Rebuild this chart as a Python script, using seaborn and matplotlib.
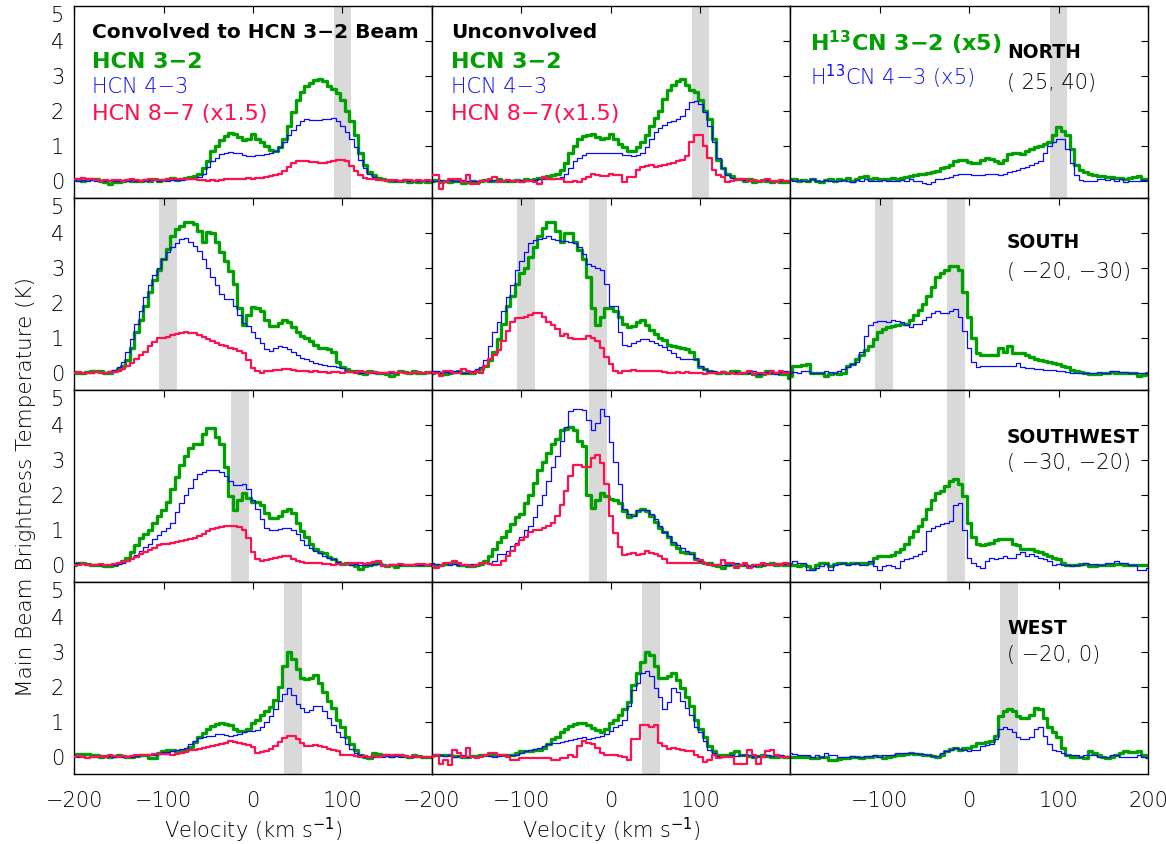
import numpy as np
import pandas as pd
import matplotlib
matplotlib.use("Agg")
import matplotlib.pyplot as plt
import seaborn as sns

# 5 km/s channel grid shared by all spectra
velocity = np.arange(-200, 205, 5)

# ---------------- NORTH ( 25, 40) ----------------
north_conv_hcn32 = [0.03, 0.02, 0.00, 0.03, 0.05, 0.04, 0.00, -0.05, -0.10, -0.05,
                    -0.03, 0.00, 0.02, 0.00, -0.02, 0.00, 0.02, 0.00, 0.03, 0.00,
                    0.02, 0.03, 0.06, 0.02, 0.04, 0.06, 0.10, 0.12, 0.20, 0.35,
                    0.55, 0.85, 1.00, 1.15, 1.28, 1.35, 1.32, 1.25, 1.15, 1.20,
                    1.33, 1.20, 1.10, 1.00, 0.88, 0.85, 0.95, 1.20, 1.55, 1.95,
                    2.30, 2.55, 2.70, 2.80, 2.88, 2.92, 2.85, 2.72, 2.62, 2.52,
                    2.30, 2.00, 1.70, 1.30, 0.80, 0.45, 0.25, 0.15, 0.08, 0.05,
                    0.02, 0.00, -0.02, 0.00, 0.02, -0.03, 0.00, -0.05, -0.02, -0.03,
                    0.00]
north_conv_hcn43 = [0.02, 0.00, 0.01, 0.00, 0.02, 0.00, -0.01, 0.00, 0.01, 0.00,
                    0.00, 0.01, 0.00, 0.02, 0.00, 0.01, 0.00, 0.02, 0.01, 0.00,
                    0.01, 0.00, 0.02, 0.01, 0.02, 0.03, 0.05, 0.08, 0.10, 0.20,
                    0.40, 0.55, 0.65, 0.75, 0.80, 0.82, 0.80, 0.78, 0.72, 0.70,
                    0.70, 0.72, 0.74, 0.76, 0.80, 0.85, 0.95, 1.10, 1.30, 1.45,
                    1.60, 1.70, 1.75, 1.73, 1.73, 1.74, 1.75, 1.76, 1.78, 1.72,
                    1.55, 1.40, 1.20, 0.95, 0.60, 0.35, 0.20, 0.10, 0.05, 0.02,
                    0.00, 0.01, -0.02, 0.00, 0.01, 0.00, -0.01, 0.00, 0.02, 0.00,
                    0.00]
north_conv_hcn87 = [0.03, 0.04, 0.06, 0.05, 0.03, 0.02, 0.00, 0.01, 0.00, 0.02,
                    0.01, 0.00, 0.02, 0.03, 0.01, 0.00, 0.02, 0.03, 0.02, 0.01,
                    0.02, 0.03, 0.03, 0.04, 0.05, 0.04, 0.05, 0.03, 0.02, 0.01,
                    0.00, 0.01, 0.00, 0.02, 0.03, 0.03, 0.04, 0.05, 0.05, 0.06,
                    0.05, 0.07, 0.08, 0.10, 0.12, 0.15, 0.20, 0.28, 0.40, 0.50,
                    0.56, 0.57, 0.56, 0.54, 0.52, 0.50, 0.50, 0.52, 0.55, 0.58,
                    0.60, 0.55, 0.42, 0.28, 0.15, 0.08, 0.05, 0.03, 0.02, 0.01,
                    0.00, 0.02, 0.01, 0.00, 0.02, 0.01, 0.00, 0.01, 0.00, 0.01,
                    0.00]
north_unconv_hcn32 = [0.00, 0.02, -0.03, 0.00, -0.05, -0.02, 0.00, -0.08, -0.05, 0.00,
                      -0.03, 0.00, 0.02, -0.02, 0.00, 0.03, 0.00, -0.02, 0.00, 0.02,
                      0.00, 0.03, 0.02, 0.05, 0.08, 0.10, 0.12, 0.15, 0.20, 0.30,
                      0.50, 0.80, 1.00, 1.18, 1.28, 1.30, 1.33, 1.25, 1.20, 1.22,
                      1.33, 1.20, 1.05, 0.95, 0.85, 0.85, 0.95, 1.10, 1.30, 1.55,
                      1.80, 2.00, 2.35, 2.60, 2.75, 2.85, 2.90, 2.75, 2.60, 2.55,
                      2.30, 2.00, 1.75, 1.20, 0.60, 0.35, 0.20, 0.12, 0.05, 0.03,
                      0.00, 0.03, -0.03, 0.00, 0.02, 0.00, -0.05, 0.00, -0.03, -0.05,
                      0.00]
north_unconv_hcn43 = [0.00, -0.02, 0.02, 0.00, 0.01, -0.02, 0.00, 0.02, 0.00, -0.01,
                      0.00, 0.02, 0.00, -0.01, 0.02, 0.00, 0.01, 0.00, 0.02, 0.00,
                      0.01, 0.00, 0.02, 0.02, 0.03, 0.04, 0.05, 0.05, 0.08, 0.10,
                      0.20, 0.35, 0.55, 0.65, 0.72, 0.78, 0.80, 0.80, 0.80, 0.80,
                      0.80, 0.80, 0.78, 0.74, 0.72, 0.70, 0.72, 0.80, 0.95, 1.20,
                      1.40, 1.50, 1.60, 1.68, 1.72, 1.76, 1.85, 2.05, 2.25, 2.28,
                      2.20, 1.95, 1.55, 1.10, 0.65, 0.35, 0.15, 0.08, 0.05, 0.03,
                      0.02, 0.00, 0.01, -0.02, 0.00, 0.02, 0.00, -0.01, 0.00, 0.02,
                      0.00]
north_unconv_hcn87 = [0.15, 0.15, -0.25, -0.05, 0.05, 0.05, 0.05, -0.05, 0.15, -0.10,
                      -0.10, 0.00, -0.02, 0.05, 0.10, -0.05, 0.00, 0.02, 0.00, -0.02,
                      -0.03, 0.00, 0.00, -0.05, -0.10, 0.10, 0.05, 0.05, 0.05, 0.03,
                      -0.05, -0.05, 0.00, -0.05, 0.05, 0.10, 0.20, 0.15, 0.12, 0.12,
                      0.20, 0.15, 0.15, -0.05, 0.10, 0.10, 0.30, 0.40, 0.42, 0.45,
                      0.40, 0.42, 0.45, 0.48, 0.50, 0.55, 0.60, 0.70, 1.10, 1.30,
                      1.30, 1.00, 0.65, 0.30, 0.15, 0.10, -0.05, 0.00, 0.02, 0.05,
                      0.03, 0.00, 0.02, -0.02, 0.00, 0.03, 0.00, -0.03, 0.02, 0.00,
                      0.00]
north_h13cn32 = [0.05, 0.03, 0.00, 0.02, -0.02, 0.03, 0.00, -0.05, 0.02, 0.05,
                 0.00, 0.05, 0.02, 0.08, 0.00, 0.05, 0.10, 0.12, 0.05, 0.08,
                 0.05, 0.03, 0.05, 0.08, 0.05, 0.08, 0.10, 0.12, 0.15, 0.18,
                 0.20, 0.22, 0.25, 0.28, 0.35, 0.40, 0.45, 0.55, 0.60, 0.58,
                 0.52, 0.50, 0.50, 0.60, 0.65, 0.62, 0.55, 0.50, 0.60, 0.75,
                 0.80, 0.78, 0.75, 0.85, 0.90, 0.95, 1.00, 1.05, 1.10, 1.30,
                 1.52, 1.42, 1.30, 0.90, 0.45, 0.30, 0.25, 0.20, 0.15, 0.12,
                 0.12, 0.10, 0.10, 0.08, 0.08, 0.05, 0.08, 0.10, 0.12, 0.05,
                 0.05]
north_h13cn43 = [0.02, 0.00, 0.01, -0.02, 0.00, 0.03, 0.00, -0.02, 0.02, 0.00,
                 -0.02, 0.00, 0.02, 0.00, -0.03, 0.02, 0.00, 0.03, 0.00, -0.02,
                 0.00, 0.02, 0.00, -0.02, 0.00, 0.02, 0.00, 0.03, 0.00, -0.02,
                 -0.08, -0.10, -0.05, 0.05, 0.05, 0.08, 0.10, 0.15, 0.20, 0.18,
                 0.20, 0.15, 0.15, 0.15, 0.18, 0.20, 0.20, 0.15, 0.18, 0.25,
                 0.28, 0.30, 0.35, 0.40, 0.45, 0.50, 0.55, 0.80, 1.00, 1.10,
                 1.20, 1.18, 0.90, 0.50, 0.15, 0.02, 0.00, -0.02, 0.00, 0.05,
                 0.05, 0.02, 0.05, 0.00, 0.05, -0.05, 0.00, -0.02, 0.00, 0.02,
                 0.00]

# ---------------- SOUTH ( -20, -30) ----------------
south_conv_hcn32 = [0.02, 0.00, 0.00, 0.02, 0.03, 0.05, 0.05, 0.00, 0.00, 0.05,
                    0.10, 0.20, 0.35, 0.70, 1.15, 1.50, 1.90, 2.30, 2.65, 2.95,
                    3.25, 3.55, 3.90, 4.10, 4.20, 4.32, 4.30, 4.25, 4.05, 3.75,
                    4.02, 4.00, 3.75, 3.45, 3.20, 2.90, 2.55, 1.85, 1.37, 1.65,
                    1.88, 1.85, 1.75, 1.50, 1.32, 1.32, 1.42, 1.50, 1.45, 1.30,
                    1.15, 1.05, 1.00, 0.90, 0.80, 0.70, 0.70, 0.68, 0.60, 0.30,
                    0.15, 0.10, 0.05, 0.05, 0.00, -0.05, 0.03, 0.02, 0.00, 0.00,
                    -0.05, -0.10, -0.05, 0.03, 0.02, 0.00, 0.03, 0.00, 0.00, 0.02,
                    0.02]
south_conv_hcn43 = [0.02, 0.01, 0.00, 0.02, 0.00, 0.01, 0.02, 0.00, 0.03, 0.08,
                    0.15, 0.30, 0.60, 0.95, 1.40, 1.75, 2.15, 2.50, 2.80, 3.00,
                    3.25, 3.45, 3.60, 3.72, 3.82, 3.85, 3.75, 3.62, 3.48, 3.25,
                    3.00, 2.75, 2.50, 2.25, 2.10, 2.10, 1.90, 1.65, 1.42, 1.32,
                    1.15, 1.00, 0.85, 0.68, 0.63, 0.70, 0.75, 0.72, 0.68, 0.60,
                    0.50, 0.42, 0.38, 0.33, 0.28, 0.25, 0.22, 0.20, 0.18, 0.15,
                    0.12, 0.05, 0.03, 0.02, 0.00, 0.02, 0.00, -0.02, 0.01, 0.00,
                    0.02, 0.00, -0.01, 0.02, 0.00, 0.01, 0.00, 0.02, -0.01, 0.00,
                    0.02]
south_conv_hcn87 = [0.00, 0.01, 0.00, -0.01, 0.00, 0.01, 0.00, 0.00, 0.01, 0.02,
                    0.05, 0.10, 0.18, 0.28, 0.40, 0.50, 0.60, 0.75, 0.88, 0.98,
                    1.00, 1.03, 1.07, 1.10, 1.13, 1.15, 1.14, 1.12, 1.08, 1.03,
                    0.97, 0.90, 0.85, 0.80, 0.75, 0.70, 0.67, 0.62, 0.55, 0.35,
                    0.12, 0.03, 0.00, 0.03, 0.05, 0.07, 0.08, 0.10, 0.09, 0.07,
                    0.05, 0.04, 0.03, 0.02, 0.03, 0.02, 0.01, 0.00, 0.02, 0.01,
                    0.00, 0.02, 0.01, 0.00, 0.03, 0.01, 0.00, 0.02, 0.00, -0.02,
                    0.00, 0.02, 0.00, 0.01, 0.00, -0.01, 0.00, 0.01, 0.00, 0.00,
                    0.01]
south_unconv_hcn32 = [0.00, 0.02, 0.00, -0.03, 0.00, 0.02, 0.03, 0.00, 0.00, -0.02,
                      0.05, 0.10, 0.20, 0.35, 0.60, 0.95, 1.40, 1.90, 2.20, 2.55,
                      2.85, 3.00, 3.30, 3.60, 3.90, 4.15, 4.30, 4.30, 4.05, 3.75,
                      4.00, 4.00, 3.75, 3.50, 3.25, 2.75, 1.85, 1.35, 1.60, 1.85,
                      1.85, 1.75, 1.60, 1.40, 1.30, 1.32, 1.45, 1.50, 1.35, 1.22,
                      1.10, 1.00, 0.92, 0.80, 0.75, 0.72, 0.70, 0.68, 0.60, 0.40,
                      0.15, 0.10, 0.05, 0.02, 0.00, 0.02, 0.00, 0.05, 0.03, 0.00,
                      0.00, -0.02, -0.05, -0.10, -0.03, 0.03, 0.00, -0.02, -0.05, -0.03,
                      -0.15]
south_unconv_hcn43 = [0.05, 0.05, 0.00, 0.02, 0.00, 0.05, 0.03, 0.00, 0.00, 0.05,
                      0.10, 0.15, 0.35, 0.75, 1.15, 1.45, 1.75, 2.15, 2.50, 2.95,
                      3.20, 3.45, 3.70, 3.80, 3.83, 3.85, 3.90, 3.82, 3.80, 3.78,
                      3.76, 3.75, 3.72, 3.60, 3.40, 3.10, 3.05, 3.00, 2.95, 2.55,
                      1.90, 1.90, 1.15, 0.80, 0.75, 0.85, 0.90, 0.95, 0.95, 0.90,
                      0.85, 0.78, 0.72, 0.65, 0.55, 0.45, 0.40, 0.40, 0.40, 0.40,
                      0.20, 0.10, 0.05, 0.03, 0.00, 0.03, 0.00, -0.02, 0.02, 0.00,
                      0.02, 0.00, 0.05, -0.05, 0.00, 0.02, 0.00, -0.03, 0.02, 0.05,
                      0.02]
south_unconv_hcn87 = [0.00, 0.00, -0.10, 0.05, 0.05, 0.00, 0.00, 0.10, 0.05, 0.00,
                      0.05, 0.00, 0.20, 0.40, 0.50, 0.65, 0.90, 1.20, 1.45, 1.55,
                      1.55, 1.60, 1.65, 1.70, 1.72, 1.60, 1.45, 1.35, 1.25, 1.05,
                      1.10, 1.00, 0.95, 0.95, 0.95, 1.05, 1.00, 0.90, 0.70, 0.45,
                      0.25, 0.05, 0.00, 0.03, 0.05, 0.08, 0.05, 0.05, 0.05, 0.04,
                      0.05, 0.03, 0.02, 0.00, 0.00, 0.02, 0.00, 0.02, 0.00, 0.00,
                      0.00, -0.05, 0.00, 0.00, 0.00, 0.02, 0.00, 0.00, -0.05, 0.00,
                      0.00, 0.05, -0.05, 0.00, 0.00, -0.05, 0.03, 0.00, 0.03, 0.00,
                      0.00]
south_h13cn32 = [-0.10, 0.20, 0.20, 0.22, 0.25, 0.00, 0.00, 0.00, -0.10, -0.05,
                 0.00, -0.05, 0.00, 0.20, 0.25, 0.40, 0.50, 0.65, 0.75, 0.95,
                 1.15, 1.25, 1.30, 1.32, 1.35, 1.38, 1.40, 1.50, 1.65, 1.80,
                 1.95, 2.20, 2.45, 2.75, 2.85, 2.95, 3.05, 3.05, 2.95, 2.30,
                 1.60, 1.00, 0.55, 0.50, 0.50, 0.50, 0.50, 0.70, 0.60, 0.75,
                 0.55, 0.55, 0.55, 0.50, 0.45, 0.40, 0.35, 0.32, 0.30, 0.28,
                 0.25, 0.20, 0.15, 0.08, 0.05, 0.02, 0.00, -0.05, -0.03, -0.03,
                 0.00, 0.00, 0.02, 0.00, 0.00, 0.00, 0.00, 0.00, -0.10, -0.08,
                 -0.02]
south_h13cn43 = [0.00, 0.02, -0.02, 0.05, 0.03, -0.02, 0.00, 0.00, 0.05, 0.02,
                 0.00, 0.05, 0.10, 0.15, 0.25, 0.30, 0.60, 1.05, 1.35, 1.45,
                 1.48, 1.47, 1.45, 1.50, 1.48, 1.45, 1.35, 1.30, 1.38, 1.40,
                 1.50, 1.60, 1.70, 1.75, 1.72, 1.72, 1.77, 1.82, 1.60, 1.20,
                 0.70, 0.30, 0.15, 0.20, 0.18, 0.18, 0.20, 0.20, 0.20, 0.18,
                 0.20, 0.28, 0.15, 0.12, 0.12, 0.10, 0.10, 0.08, 0.08, 0.06,
                 0.05, 0.03, 0.02, 0.00, 0.00, 0.00, 0.00, 0.00, 0.00, 0.02,
                 0.00, 0.00, 0.05, 0.03, 0.02, 0.02, 0.00, 0.00, 0.00, -0.02,
                 -0.02]

# ---------------- SOUTHWEST ( -30, -20) ----------------
southwest_conv_hcn32 = [0.00, 0.05, 0.05, 0.02, 0.00, 0.00, 0.00, -0.03, -0.05, 0.00,
                        0.05, 0.10, 0.20, 0.35, 0.55, 0.75, 0.88, 1.00, 1.20, 1.40,
                        1.55, 1.80, 2.15, 2.50, 2.85, 3.10, 3.35, 3.45, 3.45, 3.75,
                        3.92, 3.90, 3.65, 3.45, 2.80, 1.95, 1.57, 1.85, 2.05, 1.90,
                        1.80, 1.78, 1.72, 1.47, 1.33, 1.33, 1.38, 1.52, 1.60, 1.47,
                        1.20, 0.95, 0.80, 0.60, 0.45, 0.35, 0.32, 0.22, 0.15, 0.08,
                        0.02, 0.03, 0.02, -0.05, -0.12, -0.03, 0.00, 0.02, 0.05, -0.02,
                        -0.03, 0.00, -0.07, 0.00, -0.02, 0.00, 0.00, -0.02, 0.00, 0.00,
                        -0.02]
southwest_conv_hcn43 = [0.02, 0.05, 0.03, 0.02, 0.00, 0.01, 0.00, 0.00, -0.02, 0.00,
                        0.02, 0.05, 0.10, 0.18, 0.28, 0.38, 0.50, 0.60, 0.72, 0.85,
                        0.95, 1.05, 1.20, 1.50, 1.75, 2.00, 2.20, 2.45, 2.58, 2.65,
                        2.70, 2.72, 2.70, 2.65, 2.55, 2.40, 2.28, 2.28, 2.30, 2.15,
                        1.85, 1.60, 1.30, 1.05, 1.00, 1.00, 1.02, 1.04, 1.05, 1.00,
                        0.88, 0.70, 0.55, 0.48, 0.38, 0.32, 0.25, 0.20, 0.15, 0.08,
                        0.03, 0.02, 0.00, 0.01, 0.00, -0.02, 0.00, 0.01, 0.02, 0.00,
                        0.00, 0.01, 0.00, -0.02, 0.00, 0.00, 0.01, 0.00, 0.00, 0.01,
                        0.00]
southwest_conv_hcn87 = [-0.02, 0.00, 0.01, 0.00, -0.02, 0.00, 0.01, 0.00, 0.00, 0.02,
                        0.03, 0.06, 0.10, 0.15, 0.22, 0.30, 0.35, 0.42, 0.48, 0.55,
                        0.58, 0.60, 0.62, 0.65, 0.68, 0.70, 0.73, 0.77, 0.82, 0.88,
                        0.95, 1.02, 1.06, 1.08, 1.10, 1.10, 1.09, 1.07, 1.00, 0.75,
                        0.35, 0.15, 0.10, 0.12, 0.15, 0.20, 0.23, 0.25, 0.24, 0.15,
                        0.10, 0.07, 0.05, 0.04, 0.03, 0.03, 0.02, 0.01, 0.00, 0.01,
                        0.02, 0.02, 0.03, 0.05, 0.03, 0.02, 0.05, 0.08, 0.10, -0.05,
                        -0.03, 0.00, 0.00, 0.01, 0.00, 0.00, 0.00, 0.02, 0.01, 0.00,
                        0.02]
southwest_unconv_hcn32 = [-0.02, 0.00, 0.00, 0.02, 0.05, 0.03, 0.00, 0.00, -0.03, -0.05,
                          0.00, 0.02, 0.10, 0.25, 0.45, 0.65, 0.80, 0.95, 1.15, 1.35,
                          1.45, 1.75, 2.00, 2.35, 2.70, 2.95, 3.20, 3.45, 3.60, 3.85,
                          3.88, 3.95, 3.85, 3.55, 3.40, 2.00, 1.62, 1.85, 2.05, 1.95,
                          1.88, 1.84, 1.76, 1.52, 1.37, 1.42, 1.52, 1.59, 1.52, 1.40,
                          1.23, 1.05, 0.94, 0.80, 0.60, 0.46, 0.37, 0.34, 0.34, 0.17,
                          0.08, 0.05, 0.03, 0.00, -0.05, -0.09, 0.00, 0.02, 0.00, 0.00,
                          -0.02, -0.05, 0.00, -0.03, 0.00, 0.02, 0.03, 0.00, 0.02, 0.00,
                          0.02]
southwest_unconv_hcn43 = [0.05, 0.02, 0.00, 0.03, 0.00, 0.02, 0.00, -0.02, 0.00, 0.02,
                          0.00, 0.05, 0.05, 0.05, 0.10, 0.30, 0.30, 0.40, 0.52, 0.62,
                          0.80, 1.00, 1.10, 1.35, 1.70, 2.00, 2.40, 2.80, 3.10, 3.55,
                          3.95, 4.40, 4.45, 4.45, 4.42, 4.15, 3.85, 4.05, 4.45, 4.25,
                          3.50, 2.95, 2.30, 1.60, 1.45, 1.40, 1.55, 1.55, 1.55, 1.45,
                          1.30, 1.10, 0.92, 0.82, 0.65, 0.55, 0.48, 0.40, 0.30, 0.20,
                          0.10, 0.05, 0.02, 0.00, 0.02, 0.00, -0.02, 0.00, 0.03, 0.00,
                          0.00, -0.05, -0.03, 0.02, 0.00, 0.02, 0.00, 0.03, 0.00, 0.02,
                          0.00]
southwest_unconv_hcn87 = [-0.05, -0.10, -0.05, 0.05, 0.05, 0.10, 0.05, 0.00, -0.02, -0.05,
                          0.00, 0.05, 0.05, 0.02, -0.02, 0.00, 0.10, 0.25, 0.40, 0.55,
                          0.70, 0.80, 0.92, 1.00, 1.00, 1.05, 1.10, 1.20, 1.40, 1.70,
                          2.10, 2.55, 2.84, 2.86, 2.80, 2.80, 3.05, 3.15, 2.90, 2.30,
                          1.40, 0.90, 0.50, 0.28, 0.30, 0.32, 0.28, 0.30, 0.40, 0.32,
                          0.30, 0.25, 0.17, 0.05, 0.03, 0.05, 0.03, 0.05, 0.03, 0.05,
                          0.12, 0.03, 0.00, -0.02, 0.00, 0.12, 0.05, 0.05, -0.09, -0.02,
                          0.05, -0.11, -0.02, 0.00, 0.03, 0.00, -0.02, 0.02, 0.00, 0.03,
                          0.00]
southwest_h13cn32 = [0.00, -0.02, -0.03, 0.00, -0.05, -0.12, 0.00, 0.05, 0.03, -0.05,
                     0.02, 0.05, 0.05, 0.02, 0.05, 0.05, 0.03, 0.05, 0.05, 0.20,
                     0.25, 0.25, 0.25, 0.28, 0.35, 0.45, 0.60, 0.80, 0.95, 1.10,
                     1.30, 1.60, 1.85, 2.05, 2.10, 2.25, 2.40, 2.45, 2.30, 1.95,
                     1.20, 0.80, 0.60, 0.55, 0.58, 0.62, 0.70, 0.72, 0.72, 0.72,
                     0.60, 0.55, 0.45, 0.45, 0.45, 0.40, 0.35, 0.30, 0.25, 0.20,
                     0.15, 0.05, 0.00, 0.00, 0.00, 0.02, 0.02, -0.05, -0.03, 0.00,
                     0.00, 0.00, 0.00, 0.02, 0.02, 0.00, 0.00, 0.00, 0.00, 0.00,
                     0.00]
southwest_h13cn43 = [0.05, 0.10, 0.05, 0.05, -0.15, -0.15, -0.10, -0.05, 0.02, -0.15,
                     0.00, 0.02, 0.05, 0.00, 0.02, 0.05, 0.00, 0.00, 0.10, -0.05,
                     -0.15, -0.05, 0.00, -0.05, -0.10, 0.10, 0.15, 0.20, 0.25, 0.30,
                     0.40, 0.95, 1.05, 1.10, 1.15, 1.20, 1.25, 1.70, 1.75, 1.00,
                     0.20, 0.05, -0.05, -0.10, 0.10, 0.20, 0.15, 0.20, 0.25, 0.20,
                     0.20, 0.30, 0.35, 0.25, 0.30, 0.25, 0.20, 0.15, 0.10, 0.00,
                     0.02, 0.00, 0.00, -0.05, 0.00, 0.00, 0.05, 0.02, 0.02, 0.00,
                     0.00, 0.05, 0.05, 0.10, 0.03, 0.05, 0.00, 0.00, -0.15, -0.15,
                     -0.10]

# ---------------- WEST ( -20, 0) ----------------
west_conv_hcn32 = [0.05, 0.08, 0.08, 0.06, 0.05, 0.03, 0.00, 0.02, 0.00, 0.02,
                   0.03, 0.02, 0.00, 0.00, 0.02, 0.05, 0.05, -0.05, -0.05, 0.10,
                   0.15, 0.18, 0.20, 0.17, 0.15, 0.20, 0.28, 0.42, 0.55, 0.68,
                   0.80, 0.88, 0.93, 0.95, 0.94, 0.90, 0.80, 0.74, 0.72, 0.80,
                   0.95, 1.05, 1.20, 1.30, 1.42, 1.62, 2.00, 2.60, 3.00, 2.80,
                   2.50, 2.25, 2.22, 2.25, 2.35, 2.10, 1.85, 1.60, 1.40, 1.05,
                   0.85, 0.55, 0.35, 0.18, 0.05, 0.00, -0.05, 0.10, 0.08, 0.05,
                   0.03, 0.02, 0.05, 0.03, 0.02, 0.00, 0.03, 0.02, 0.00, -0.02,
                   0.00]
west_conv_hcn43 = [0.02, 0.00, 0.01, 0.00, 0.02, 0.00, 0.01, 0.00, 0.02, 0.00,
                   0.01, 0.00, 0.02, 0.00, 0.02, 0.03, 0.03, 0.05, 0.05, 0.08,
                   0.12, 0.14, 0.15, 0.18, 0.22, 0.25, 0.35, 0.45, 0.52, 0.55,
                   0.58, 0.60, 0.65, 0.65, 0.62, 0.60, 0.62, 0.65, 0.70, 0.72,
                   0.72, 0.75, 0.85, 1.00, 1.15, 1.35, 1.60, 1.80, 1.95, 1.75,
                   1.50, 1.40, 1.28, 1.32, 1.45, 1.45, 1.30, 1.10, 0.90, 0.70,
                   0.55, 0.35, 0.22, 0.10, 0.03, 0.00, 0.01, 0.00, 0.02, 0.00,
                   0.01, 0.00, 0.02, 0.00, 0.01, 0.00, 0.00, 0.01, 0.00, 0.00,
                   0.00]
west_conv_hcn87 = [0.00, 0.01, 0.00, -0.03, -0.02, 0.00, 0.01, 0.00, 0.03, 0.02,
                   0.00, 0.01, 0.00, 0.02, 0.03, 0.05, 0.04, 0.05, 0.06, 0.08,
                   0.08, 0.07, 0.05, 0.06, 0.10, 0.12, 0.18, 0.20, 0.22, 0.25,
                   0.27, 0.30, 0.32, 0.35, 0.40, 0.45, 0.42, 0.40, 0.35, 0.32,
                   0.28, 0.10, 0.12, 0.17, 0.22, 0.30, 0.42, 0.52, 0.60, 0.58,
                   0.50, 0.40, 0.30, 0.30, 0.32, 0.30, 0.27, 0.22, 0.20, 0.15,
                   0.05, 0.04, 0.03, 0.02, 0.00, 0.01, 0.00, 0.02, 0.00, 0.02,
                   0.03, 0.05, 0.04, 0.03, 0.02, 0.00, 0.01, 0.00, -0.02, -0.02,
                   -0.02]
west_unconv_hcn32 = [0.05, 0.05, 0.05, 0.04, 0.03, 0.02, 0.02, 0.00, 0.00, 0.02,
                     0.02, 0.03, 0.05, 0.05, 0.05, 0.04, 0.05, 0.03, 0.03, 0.10,
                     0.15, 0.15, 0.15, 0.18, 0.20, 0.25, 0.35, 0.50, 0.55, 0.70,
                     0.80, 0.88, 0.92, 0.95, 0.95, 0.90, 0.82, 0.75, 0.70, 0.80,
                     0.95, 1.05, 1.20, 1.35, 1.55, 2.05, 2.40, 2.70, 3.00, 2.90,
                     2.60, 2.25, 2.25, 2.30, 2.38, 2.20, 1.95, 1.70, 1.45, 1.05,
                     0.80, 0.55, 0.30, 0.15, 0.05, 0.03, 0.05, 0.10, 0.15, 0.05,
                     0.05, 0.02, 0.00, 0.02, 0.05, 0.02, 0.00, 0.00, 0.02, 0.00,
                     0.00]
west_unconv_hcn43 = [0.05, 0.03, 0.05, 0.02, 0.03, 0.00, 0.02, 0.03, 0.00, 0.02,
                     0.00, 0.02, 0.03, 0.02, 0.00, 0.02, 0.03, 0.02, 0.03, 0.05,
                     0.10, 0.15, 0.18, 0.22, 0.25, 0.30, 0.35, 0.38, 0.40, 0.42,
                     0.45, 0.47, 0.50, 0.52, 0.55, 0.50, 0.52, 0.55, 0.60, 0.65,
                     0.72, 0.85, 0.90, 1.05, 1.45, 1.90, 2.10, 2.40, 2.45, 2.30,
                     1.95, 1.70, 1.35, 1.55, 1.95, 1.85, 1.60, 1.40, 1.20, 0.85,
                     0.70, 0.45, 0.20, 0.10, 0.02, 0.00, 0.02, 0.03, 0.02, 0.05,
                     0.03, 0.05, 0.00, 0.02, 0.00, 0.03, 0.02, 0.03, 0.05, 0.02,
                     0.02]
west_unconv_hcn87 = [0.00, 0.05, -0.20, -0.10, -0.25, 0.20, 0.10, 0.00, 0.25, 0.00,
                     -0.05, 0.00, 0.05, 0.10, 0.10, 0.05, 0.05, 0.00, -0.10, -0.10,
                     -0.05, -0.05, -0.05, -0.05, -0.05, -0.05, -0.05, -0.10, -0.10, -0.05,
                     -0.05, 0.05, -0.02, 0.30, 0.45, 0.40, 0.35, 0.25, 0.10, 0.05,
                     0.05, 0.05, 0.02, 0.00, -0.10, 0.50, 0.50, 0.90, 0.90, 0.85,
                     0.90, 0.40, 0.30, 0.22, 0.25, 0.22, 0.20, 0.15, 0.15, 0.05,
                     0.00, -0.15, -0.10, 0.05, -0.05, 0.00, 0.00, 0.00, -0.20, -0.20,
                     -0.20, 0.20, 0.05, -0.20, 0.00, 0.15, 0.20, 0.05, 0.00, 0.00,
                     0.00]
west_h13cn32 = [0.00, 0.00, 0.00, 0.00, 0.00, -0.03, -0.03, 0.00, 0.00, -0.10,
                -0.10, -0.08, -0.05, -0.03, 0.00, 0.00, -0.03, 0.00, 0.00, 0.02,
                0.02, -0.05, 0.00, 0.02, 0.03, 0.05, 0.08, 0.10, 0.08, 0.08,
                0.05, 0.05, 0.02, 0.00, 0.05, 0.15, 0.22, 0.25, 0.20, 0.25,
                0.25, 0.30, 0.38, 0.40, 0.42, 0.45, 0.60, 1.15, 1.30, 1.35,
                1.30, 1.15, 1.10, 1.10, 1.20, 1.40, 1.35, 1.10, 0.85, 0.70,
                0.55, 0.25, 0.05, 0.00, 0.00, 0.00, -0.05, 0.15, 0.10, 0.05,
                0.00, -0.05, 0.00, 0.05, 0.10, 0.15, 0.12, 0.12, 0.15, 0.05,
                0.00]
west_h13cn43 = [0.10, 0.08, 0.05, 0.05, 0.05, 0.00, 0.05, 0.00, 0.10, 0.05,
                0.05, 0.00, 0.00, 0.00, 0.02, 0.00, 0.00, 0.02, 0.02, 0.03,
                0.00, 0.05, 0.05, 0.05, 0.10, 0.10, 0.10, 0.10, 0.10, 0.08,
                0.08, 0.05, 0.02, 0.02, 0.10, 0.15, 0.20, 0.25, 0.22, 0.20,
                0.15, 0.18, 0.20, 0.30, 0.32, 0.35, 0.50, 0.80, 0.85, 0.80,
                0.70, 0.55, 0.50, 0.50, 0.55, 0.80, 0.85, 0.60, 0.35, 0.20,
                0.15, 0.10, 0.05, 0.05, 0.05, 0.00, 0.03, 0.05, 0.05, 0.00,
                0.00, 0.00, 0.05, 0.05, 0.00, -0.02, 0.00, 0.00, 0.05, 0.00,
                -0.05]

positions = ["NORTH", "SOUTH", "SOUTHWEST", "WEST"]
offsets = ["( 25, 40)", "( \u221220, \u221230)", "( \u221230, \u221220)", "( \u221220, 0)"]

# grey velocity windows (km/s) marked in each panel: [row][column]
windows = [
    [[(90, 110)], [(90, 110)], [(90, 110)]],
    [[(-105, -85)], [(-105, -85), (-25, -5)], [(-105, -85), (-25, -5)]],
    [[(-25, -5)], [(-25, -5)], [(-25, -5)]],
    [[(35, 55)], [(35, 55)], [(35, 55)]],
]

spectra = [
    [[north_conv_hcn32, north_conv_hcn43, north_conv_hcn87],
     [north_unconv_hcn32, north_unconv_hcn43, north_unconv_hcn87],
     [north_h13cn32, north_h13cn43]],
    [[south_conv_hcn32, south_conv_hcn43, south_conv_hcn87],
     [south_unconv_hcn32, south_unconv_hcn43, south_unconv_hcn87],
     [south_h13cn32, south_h13cn43]],
    [[southwest_conv_hcn32, southwest_conv_hcn43, southwest_conv_hcn87],
     [southwest_unconv_hcn32, southwest_unconv_hcn43, southwest_unconv_hcn87],
     [southwest_h13cn32, southwest_h13cn43]],
    [[west_conv_hcn32, west_conv_hcn43, west_conv_hcn87],
     [west_unconv_hcn32, west_unconv_hcn43, west_unconv_hcn87],
     [west_h13cn32, west_h13cn43]],
]

GREEN = "#00a000"
BLUE = "#0a0aff"
RED = "#ff1050"
line_colors = [GREEN, BLUE, RED]
line_widths = [2.4, 0.9, 1.6]

sns.set_style("white")
plt.rcParams["font.family"] = ["DejaVu Sans"]
plt.rcParams["mathtext.fontset"] = "dejavusans"

THIN = 200          # light weight for the plain annotation text
TEXT_COLOR = "black"

fig = plt.figure(figsize=(11.66, 8.44), dpi=100)
gs = fig.add_gridspec(4, 3, left=74 / 1166, right=1148 / 1166,
                      top=1 - 6 / 844, bottom=1 - 774 / 844,
                      hspace=0, wspace=0)

xticks = [-200, -100, 0, 100, 200]
xlabels_by_col = [
    ["\u2212200", "\u2212100", "0", "100", ""],
    ["\u2212200", "\u2212100", "0", "100", ""],
    ["", "\u2212100", "0", "100", "200"],
]

for r in range(4):
    for c in range(3):
        ax = fig.add_subplot(gs[r, c])
        for lo, hi in windows[r][c]:
            ax.axvspan(lo, hi, color="#d9d9d9", lw=0, zorder=0)
        for k, series in enumerate(spectra[r][c]):
            frame = pd.DataFrame({"velocity": velocity, "tmb": series})
            sns.lineplot(data=frame, x="velocity", y="tmb", ax=ax,
                         color=line_colors[k], linewidth=line_widths[k],
                         drawstyle="steps-mid", estimator=None,
                         legend=False, zorder=2 + k)
        ax.set_xlim(-200, 200)
        ax.set_ylim(-0.5, 5.0)
        ax.set_xticks(xticks)
        ax.set_yticks(range(6))
        ax.tick_params(direction="in", length=5, width=0.8, top=True, right=True,
                       labelsize=15, colors="black", labelcolor=TEXT_COLOR)
        ax.tick_params(axis="x", pad=12)
        ax.tick_params(axis="y", pad=7)
        if r == 3:
            ax.set_xticklabels(xlabels_by_col[c], fontweight=THIN)
        else:
            ax.set_xticklabels([])
        if c == 0:
            ylabels = ax.set_yticklabels([str(v) for v in range(6)],
                                         fontweight=THIN)
            ylabels[-1].set_verticalalignment("top")
        else:
            ax.set_yticklabels([])
        ax.set_xlabel("")
        ax.set_ylabel("")
        for sp in ax.spines.values():
            sp.set_linewidth(1.0)
            sp.set_color("black")

        if r == 3 and c < 2:
            ax.set_xlabel("Velocity (km s$^{\u22121}$)", fontsize=15,
                          fontweight=THIN, color=TEXT_COLOR, labelpad=4)

        if c == 2:
            ax.text(0.606, [0.76, 0.766, 0.755, 0.76][r], positions[r],
                    transform=ax.transAxes, fontsize=13.5, fontweight="bold",
                    color="black", va="center", ha="left")
            ax.text(0.606, [0.60, 0.615, 0.62, 0.62][r], offsets[r],
                    transform=ax.transAxes, fontsize=15, fontweight=THIN,
                    color=TEXT_COLOR, va="center", ha="left", clip_on=False)

        if r == 0 and c < 2:
            header = "Convolved to HCN 3\u22122 Beam" if c == 0 else "Unconvolved"
            tail87 = " (x1.5)" if c == 0 else "(x1.5)"
            x0 = 0.05 if c == 0 else 0.053
            ax.text(x0, 0.86, header, transform=ax.transAxes, fontsize=14.5,
                    fontweight="bold", color="black", va="center")
            ax.text(x0, 0.71, "HCN 3\u22122", transform=ax.transAxes, fontsize=16,
                    fontweight="bold", color=GREEN, va="center")
            ax.text(x0, 0.58, "HCN 4\u22123", transform=ax.transAxes, fontsize=15,
                    fontweight=THIN, color=BLUE, va="center")
            ax.text(x0, 0.44, "HCN 8\u22127" + tail87, transform=ax.transAxes,
                    fontsize=16, color=RED, va="center")
        if r == 0 and c == 2:
            ax.text(0.056, 0.807, "H$^{\\mathbf{13}}$CN 3\u22122 (x5)",
                    transform=ax.transAxes, fontsize=16, fontweight="bold",
                    color=GREEN, va="center")
            ax.text(0.056, 0.63, "H$^{13}$CN 4\u22123 (x5)",
                    transform=ax.transAxes, fontsize=15, fontweight=THIN,
                    color=BLUE, va="center")

fig.text(26 / 1166, 1 - 487 / 844, "Main Beam Brightness Temperature (K)",
         rotation=90, fontsize=15.5, fontweight=THIN, color=TEXT_COLOR,
         ha="center", va="center")

fig.savefig("out.png", dpi=100)
